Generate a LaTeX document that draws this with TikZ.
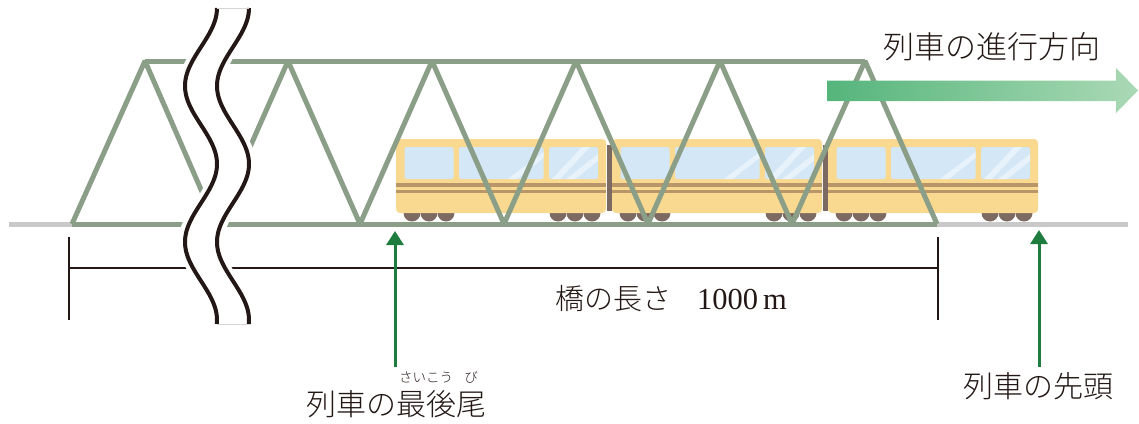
\documentclass[tikz,border=0pt]{standalone}
\usepackage{fontspec}
\newfontfamily\jpfont{Noto Sans CJK JP Light}
\newfontfamily\numfont{Liberation Serif}
\usetikzlibrary{arrows.meta}

\definecolor{truss}{HTML}{8A9E88}
\definecolor{rail}{HTML}{C9C9C9}
\definecolor{carbody}{HTML}{F8D98F}
\definecolor{glass}{HTML}{D4E7F6}
\definecolor{glint}{HTML}{E7F2FB}
\definecolor{stripe}{HTML}{B8966A}
\definecolor{wheel}{HTML}{7C6961}
\definecolor{ink}{HTML}{231815}
\definecolor{pointer}{HTML}{1E7D3E}
\definecolor{dirL}{HTML}{55B57B}
\definecolor{dirR}{HTML}{AAD9B5}

\tikzset{
  member/.style={draw=truss, line width=5pt, line join=bevel},
  railline/.style={draw=rail, line width=5pt},
  dimline/.style={draw=ink, line width=1.5pt},
  breakline/.style={draw=ink, line width=4pt},
  uparrow/.style={draw=pointer, line width=3pt,
    -{Triangle[width=17pt,length=14pt]}},
  label/.style={font=\jpfont\fontsize{30}{36}\selectfont, text=ink, inner sep=0pt},
  rubytext/.style={font=\jpfont\fontsize{13.5}{16}\selectfont, text=ink, inner sep=0pt},
}

% one passenger car, left edge at #1; #2 = y adds the coupling bar
\newcommand\railcar[2]{%
  \begin{scope}[shift={(#1,0)}]
    \foreach \w in {16,33,50,162,179,196}
      \fill[wheel] (\w,213) circle[radius=8.5pt];
    \fill[carbody, rounded corners=4pt] (0,139) rectangle (210,213);
    \fill[stripe] (0,183) rectangle (210,187);
    \fill[stripe] (0,190) rectangle (210,193);
    \foreach \a/\b in {8.5/57.5, 63/147.5, 153/202}
      \fill[glass, rounded corners=2pt] (\a,147) rectangle (\b,179);
    \begin{scope}
      \clip (63,147) rectangle (147.5,179);
      \fill[glint] (112,179) -- (147.5,152) -- (147.5,158) -- (121,179) -- cycle;
    \end{scope}
    \begin{scope}
      \clip (153,147) rectangle (202,179);
      \fill[glint] (156,179) -- (186,147) -- (194,147) -- (164,179) -- cycle;
      \fill[glint] (170,179) -- (202,154) -- (202,161) -- (179,179) -- cycle;
    \end{scope}
    \ifx#2y\fill[wheel] (211,145) rectangle (216,211);\fi
  \end{scope}}

\begin{document}
\begin{tikzpicture}[x=1pt, y=-1pt]
  \useasboundingbox (0,0) rectangle (1139,423);

  % track
  \coordinate (trackW) at (9,224);
  \coordinate (trackE) at (1128,224);
  \draw[railline] (trackW) -- (trackE);

  % train
  \railcar{396}{y}
  \railcar{612}{y}
  \railcar{828}{n}

  % truss girder
  \draw[member] (72,224) -- (145,61) -- (216,224) -- (288,61) -- (360,224)
    -- (432,61) -- (504,224) -- (576,61) -- (648,224) -- (720,61)
    -- (792,224) -- (865,61) -- (937,224);
  \draw[member] (72,224) -- (937,224);
  \draw[member] (145,61) -- (865,61);

  % span dimension
  \coordinate (dimL) at (69,268);
  \coordinate (dimR) at (938,268);
  \coordinate (tickLtop) at (69,237);
  \coordinate (tickLbot) at (69,320);
  \coordinate (tickRtop) at (938,237);
  \coordinate (tickRbot) at (938,320);
  \draw[dimline] (tickLtop) -- (tickLbot);
  \draw[dimline] (tickRtop) -- (tickRbot);
  \draw[dimline] (dimL) -- (dimR);
  \node[label, font=\jpfont\fontsize{29}{34}\selectfont] (span) at (671,299)
    {橋の長さ\hspace{26pt}{\numfont\fontsize{30.5}{34}\selectfont 1000\,m}};

  % omission break (wave period 156, 360/156 = 2.30769 deg per unit)
  \fill[white]
    plot[domain=8:324, samples=120, smooth, variable=\t]
      ({194+16*cos(2.30769*(\t-8))}, \t)
    -- plot[domain=324:8, samples=120, smooth, variable=\t]
      ({240+16*cos(2.30769*(\t-8))}, \t) -- cycle;
  \draw[breakline] plot[domain=8:324, samples=120, smooth, variable=\t]
      ({201+16*cos(2.30769*(\t-8))}, \t);
  \draw[breakline] plot[domain=8:324, samples=120, smooth, variable=\t]
      ({233+16*cos(2.30769*(\t-8))}, \t);
  \draw[draw=rail!80, line width=1pt] (217,8) -- (249,8);
  \draw[draw=rail!80, line width=1pt] (217,324) -- (249,324);

  % direction of travel
  \shade[left color=dirL, right color=dirR]
    (827,80.5) -- (1116,80.5) -- (1116,68) -- (1138,90.5) -- (1116,113)
    -- (1116,101) -- (827,101) -- cycle;
  \node[label, font=\jpfont\fontsize{31}{36}\selectfont] (dir) at (992,47) {列車の進行方向};

  % rear of the train
  \coordinate (rearTip) at (395,231);
  \coordinate (rearTail) at (395,367);
  \draw[uparrow] (rearTail) -- (rearTip);
  \node[label] (rear) at (396,404) {列車の最後尾};
  \node[rubytext] (rubyA) at (426,377) {さいこう};
  \node[rubytext] (rubyB) at (471,377) {び};

  % front of the train
  \coordinate (frontTip) at (1039,230);
  \coordinate (frontTail) at (1039,367);
  \draw[uparrow] (frontTail) -- (frontTip);
  \node[label] (front) at (1038,386) {列車の先頭};
\end{tikzpicture}
\end{document}
